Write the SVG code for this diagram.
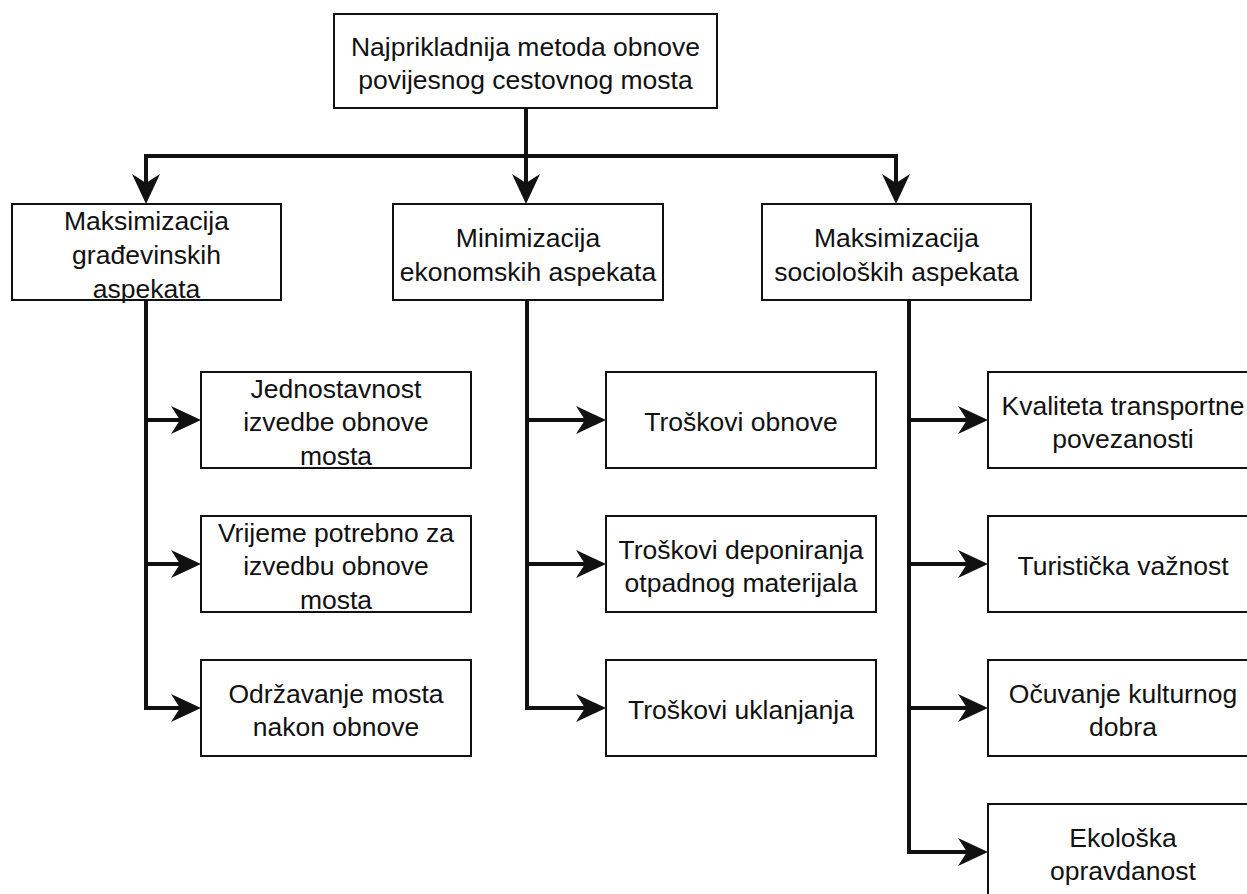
<svg xmlns="http://www.w3.org/2000/svg" width="1247" height="894" viewBox="0 0 1247 894">
<defs>
<style>
.box{fill:#fff;stroke:#111;stroke-width:2}
.t{font-family:"Liberation Sans",Arial,Helvetica,sans-serif;font-size:26.5px;fill:#111;text-anchor:middle}
.c{fill:none;stroke:#111;stroke-width:4;stroke-linejoin:miter}
</style>
<marker id="ah" viewBox="0 0 30 30" refX="9" refY="15" markerWidth="30" markerHeight="30" markerUnits="userSpaceOnUse" orient="auto">
<path d="M0,1 L30,15 L0,29 L9,15 Z" fill="#111"/>
</marker>
</defs>
<rect width="1247" height="894" fill="#fff"/>
<g id="connectors">
<path class="c" d="M526,108 V183" marker-end="url(#ah)"/>
<path class="c" d="M526,156 H146 V183" marker-end="url(#ah)"/>
<path class="c" d="M526,156 H896 V183" marker-end="url(#ah)"/>
<path class="c" d="M146,300 V708 H180" marker-end="url(#ah)"/>
<path class="c" d="M146,420 H180" marker-end="url(#ah)"/>
<path class="c" d="M146,564 H180" marker-end="url(#ah)"/>
<path class="c" d="M527,300 V708 H585" marker-end="url(#ah)"/>
<path class="c" d="M527,420 H585" marker-end="url(#ah)"/>
<path class="c" d="M527,564 H585" marker-end="url(#ah)"/>
<path class="c" d="M909,300 V852 H967" marker-end="url(#ah)"/>
<path class="c" d="M909,420 H967" marker-end="url(#ah)"/>
<path class="c" d="M909,564 H967" marker-end="url(#ah)"/>
<path class="c" d="M909,708 H967" marker-end="url(#ah)"/>
</g>
<g id="root">
<rect class="box" x="334" y="14" width="383" height="94"/>
<text class="t" x="525.5" y="55.5">Najprikladnija metoda obnove</text>
<text class="t" x="525.5" y="88.5">povijesnog cestovnog mosta</text>
</g>
<g id="gradjevinski">
<rect class="box" x="12" y="204" width="269" height="96"/>
<text class="t" x="146.5" y="230">Maksimizacija</text>
<text class="t" x="146.5" y="264">građevinskih</text>
<text class="t" x="146.5" y="298">aspekata</text>
</g>
<g id="ekonomski">
<rect class="box" x="393" y="204" width="270" height="96"/>
<text class="t" x="528" y="247">Minimizacija</text>
<text class="t" x="528" y="281">ekonomskih aspekata</text>
</g>
<g id="socioloski">
<rect class="box" x="762" y="204" width="269" height="96"/>
<text class="t" x="896.5" y="247">Maksimizacija</text>
<text class="t" x="896.5" y="281">socioloških aspekata</text>
</g>
<g id="jednostavnost">
<rect class="box" x="201" y="372" width="270" height="96"/>
<text class="t" x="336" y="398">Jednostavnost</text>
<text class="t" x="336" y="431">izvedbe obnove</text>
<text class="t" x="336" y="465">mosta</text>
</g>
<g id="vrijeme">
<rect class="box" x="201" y="516" width="270" height="96"/>
<text class="t" x="336" y="542">Vrijeme potrebno za</text>
<text class="t" x="336" y="575">izvedbu obnove</text>
<text class="t" x="336" y="609">mosta</text>
</g>
<g id="odrzavanje">
<rect class="box" x="201" y="660" width="270" height="96"/>
<text class="t" x="336" y="702.5">Održavanje mosta</text>
<text class="t" x="336" y="736">nakon obnove</text>
</g>
<g id="troskovi-obnove">
<rect class="box" x="606" y="372" width="270" height="96"/>
<text class="t" x="741" y="431">Troškovi obnove</text>
</g>
<g id="troskovi-deponiranja">
<rect class="box" x="606" y="516" width="270" height="96"/>
<text class="t" x="741" y="558.5">Troškovi deponiranja</text>
<text class="t" x="741" y="592">otpadnog materijala</text>
</g>
<g id="troskovi-uklanjanja">
<rect class="box" x="606" y="660" width="270" height="96"/>
<text class="t" x="741" y="719">Troškovi uklanjanja</text>
</g>
<g id="kvaliteta">
<rect class="box" x="988" y="372" width="270" height="96"/>
<text class="t" x="1123" y="414.5">Kvaliteta transportne</text>
<text class="t" x="1123" y="448">povezanosti</text>
</g>
<g id="turisticka">
<rect class="box" x="988" y="516" width="270" height="96"/>
<text class="t" x="1123" y="575">Turistička važnost</text>
</g>
<g id="ocuvanje">
<rect class="box" x="988" y="660" width="270" height="96"/>
<text class="t" x="1123" y="702.5">Očuvanje kulturnog</text>
<text class="t" x="1123" y="736">dobra</text>
</g>
<g id="ekoloska">
<rect class="box" x="988" y="804" width="270" height="96"/>
<text class="t" x="1123" y="846.5">Ekološka</text>
<text class="t" x="1123" y="880">opravdanost</text>
</g>
</svg>
